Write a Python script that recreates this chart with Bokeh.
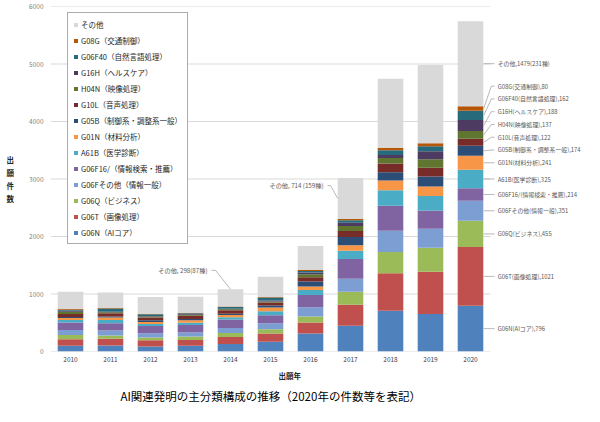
from bokeh.plotting import figure
from bokeh.models import Legend, LegendItem, FixedTicker, ColumnDataSource, Range1d, Title
from bokeh.core.properties import value
from bokeh.embed import file_html
from bokeh.resources import INLINE

# ---------------- data ----------------
years = [2010, 2011, 2012, 2013, 2014, 2015, 2016, 2017, 2018, 2019, 2020]

names = ["G06N（AIコア）", "G06T（画像処理）", "G06Q（ビジネス）", "G06Fその他（情報一般）",
         "G06F16/（情報検索・推薦）", "A61B（医学診断）", "G01N（材料分析）",
         "G05B（制御系・調整系一般）", "G10L（音声処理）", "H04N（映像処理）",
         "G16H（ヘルスケア）", "G06F40（自然言語処理）", "G08G（交通制御）", "その他"]
short_names = ["G06N(AIコア)", "G06T(画像処理)", "G06Q(ビジネス)", "G06Fその他(情報一般)",
               "G06F16/(情報検索・推薦)", "A61B(医学診断)", "G01N(材料分析)",
               "G05B(制御系・調整系一般)", "G10L(音声処理)", "H04N(映像処理)",
               "G16H(ヘルスケア)", "G06F40(自然言語処理)", "G08G(交通制御)", "その他"]

g06n = [98, 104, 87, 98, 132, 168, 313, 450, 710, 654, 796]
g06t = [116, 116, 110, 104, 122, 145, 191, 365, 650, 735, 1021]
g06q = [75, 58, 46, 58, 69, 75, 104, 226, 370, 417, 455]
g06f_other = [87, 87, 75, 69, 87, 104, 162, 226, 370, 330, 351]
g06f16 = [127, 127, 127, 133, 145, 139, 214, 342, 434, 318, 214]
a61b = [46, 58, 35, 40, 40, 69, 87, 145, 272, 249, 325]
g01n = [35, 40, 35, 40, 40, 64, 58, 93, 168, 168, 241]
g05b = [17, 17, 29, 23, 23, 35, 87, 145, 145, 174, 174]
g10l = [52, 58, 46, 58, 58, 52, 75, 104, 150, 150, 122]
h04n = [40, 17, 17, 17, 17, 17, 52, 87, 98, 150, 137]
g16h = [17, 10, 12, 12, 12, 17, 29, 58, 52, 139, 188]
g06f40 = [17, 58, 29, 12, 29, 52, 29, 40, 81, 87, 162]
g08g = [17, 10, 10, 10, 10, 10, 17, 23, 45, 52, 80]
other = [295, 266, 290, 278, 298, 353, 417, 714, 1200, 1360, 1479]

other_species = {2014: 87, 2017: 159, 2020: 231}

y_ticks = [0, 1000, 2000, 3000, 4000, 5000, 6000]

series = [g06n, g06t, g06q, g06f_other, g06f16, a61b, g01n, g05b, g10l, h04n, g16h, g06f40, g08g, other]
colors = ["#4F81BD", "#C0504D", "#9BBB59", "#7C9ED3", "#8064A2", "#4BACC6", "#F79646",
          "#2C4D75", "#772C2A", "#5F7530", "#4D3B62", "#276A7C", "#B65708", "#D9D9D9"]

FONT = "Noto Sans CJK JP"

# ---------------- layout ----------------
W, H = 584, 406
BL, BT, FH = 50, 6, 346
UNIT = 40.0                  # px per category
YS = 6000.0 / FH             # data units per px
BAR_W = 0.64

p = figure(width=W, height=H, output_backend="svg", toolbar_location=None,
           x_range=Range1d(-0.5, -0.5 + (W - BL) / UNIT), y_range=Range1d(0, 6000),
           min_border_left=BL, min_border_right=0, min_border_top=BT,
           min_border_bottom=H - BT - FH)
p.xgrid.visible = False
p.ygrid.visible = False
p.outline_line_color = None
p.background_fill_color = "white"

# gridlines restricted to the bar area
p.segment(x0=[-0.5] * len(y_ticks), x1=[10.5] * len(y_ticks), y0=y_ticks, y1=y_ticks,
          line_color="#D9D9D9", line_width=1)

keys = ["s%d" % i for i in range(len(series))]
data = {"x": list(range(len(years)))}
for k, s in zip(keys, series):
    data[k] = s
src = ColumnDataSource(data)
rs = p.vbar_stack(keys, x="x", width=BAR_W, color=colors, line_color=None, source=src)

# axes
ya = p.yaxis[0]
ya.ticker = FixedTicker(ticks=y_ticks)
ya.axis_line_color = None
ya.major_tick_line_color = None
ya.minor_tick_line_color = None
ya.major_tick_out = 0
ya.major_tick_in = 0
ya.major_label_text_font = FONT
ya.major_label_text_font_size = "6.5px"
ya.major_label_text_color = "#7F7F7F"
ya.major_label_standoff = 7
ya.axis_label_text_font = FONT
ya.axis_label_text_font_size = "7.5px"
ya.axis_label_text_font_style = "bold"
ya.axis_label_text_color = "#262626"
ya.axis_label_standoff = 12
try:
    ya.axis_label_orientation = "horizontal"
    ya.axis_label = "出\n願\n件\n数"
except Exception:
    ya.axis_label = "出願件数"

xa = p.xaxis[0]
xa.ticker = FixedTicker(ticks=list(range(len(years))))
xa.major_label_overrides = {i: str(y) for i, y in enumerate(years)}
xa.axis_line_color = None
xa.major_tick_line_color = None
xa.minor_tick_line_color = None
xa.major_tick_out = 0
xa.major_tick_in = 0
xa.major_label_text_font = FONT
xa.major_label_text_font_size = "6.5px"
xa.major_label_text_color = "#404040"
xa.major_label_standoff = 5

# x-axis title and chart title, both below
p.add_layout(Title(text="出願年", align="left", offset=228, standoff=6,
                   text_font=FONT, text_font_size="7.5px", text_font_style="bold",
                   text_color="#262626"), "below")
p.add_layout(Title(text="AI関連発明の主分類構成の推移（2020年の件数等を表記）", align="left",
                   offset=70, standoff=5, text_font=FONT, text_font_size="11.5px",
                   text_font_style="normal", text_color="#000000"), "below")

# legend
items = [LegendItem(label=names[i], renderers=[rs[i]]) for i in reversed(range(len(series)))]
legend = Legend(items=items, location=(17, 107))
legend.label_text_font = FONT
legend.label_text_font_size = "7.5px"
legend.label_text_color = "#262626"
legend.glyph_width = 5
legend.glyph_height = 5
legend.label_height = 12
legend.label_standoff = 3
legend.spacing = 4
legend.padding = 5
legend.margin = 0
legend.border_line_color = "#595959"
legend.border_line_width = 1
legend.background_fill_color = "white"
legend.background_fill_alpha = 1
p.add_layout(legend)

# ---------------- 2020 data labels ----------------
last = len(years) - 1
vals = [s[last] for s in series]
mids = []
cum = 0
for v in vals:
    mids.append(cum + v / 2.0)
    cum += v
gap = 12.8 * YS
label_y = []
for m in mids:
    if label_y and m < label_y[-1] + gap:
        label_y.append(label_y[-1] + gap)
    else:
        label_y.append(m)
texts = []
for i, v in enumerate(vals):
    if i == len(vals) - 1:
        texts.append("その他,%d(%d種)" % (v, other_species[years[last]]))
    else:
        texts.append("%s,%d" % (short_names[i], v))

edge = last + BAR_W / 2 + 0.01
lx_bend = last + 0.52
lx_end = last + 0.60
lx_text = last + 0.68
p.multi_line(xs=[[edge, lx_bend, lx_end] for _ in vals],
             ys=[[m, ly, ly] for m, ly in zip(mids, label_y)],
             line_color="#A6A6A6", line_width=0.8)
p.text(x=[lx_text] * len(vals), y=label_y, text=texts,
       text_font=value(FONT), text_font_size="5.9px", text_color="#595959",
       text_baseline="middle", text_align="left")

# ---------------- callouts for その他 (2014, 2017) ----------------
i14 = years.index(2014)
tot14 = sum(s[i14] for s in series)
t14_y = tot14 + 19 * YS
p.text(x=[i14 - 23 / UNIT], y=[t14_y], text=["その他, %d(%d種)" % (other[i14], other_species[2014])],
       text_font=value(FONT), text_font_size="6.2px", text_color="#595959",
       text_baseline="middle", text_align="right")
p.line(x=[i14 - 19 / UNIT, i14 - 15 / UNIT, i14], y=[t14_y, t14_y, tot14],
       line_color="#A6A6A6", line_width=0.8)

i17 = years.index(2017)
base17 = sum(s[i17] for s in series[:-1])
mid17 = base17 + other[i17] / 2.0
t17_y = mid17 + 13 * YS
p.text(x=[i17 - 27 / UNIT], y=[t17_y], text=["その他, %d (%d種)" % (other[i17], other_species[2017])],
       text_font=value(FONT), text_font_size="6.2px", text_color="#595959",
       text_baseline="middle", text_align="right")
p.line(x=[i17 - 23 / UNIT, i17 - 20 / UNIT, i17 - BAR_W / 2], y=[t17_y, t17_y, mid17],
       line_color="#A6A6A6", line_width=0.8)

open("out.html", "w").write(file_html(p, INLINE))
